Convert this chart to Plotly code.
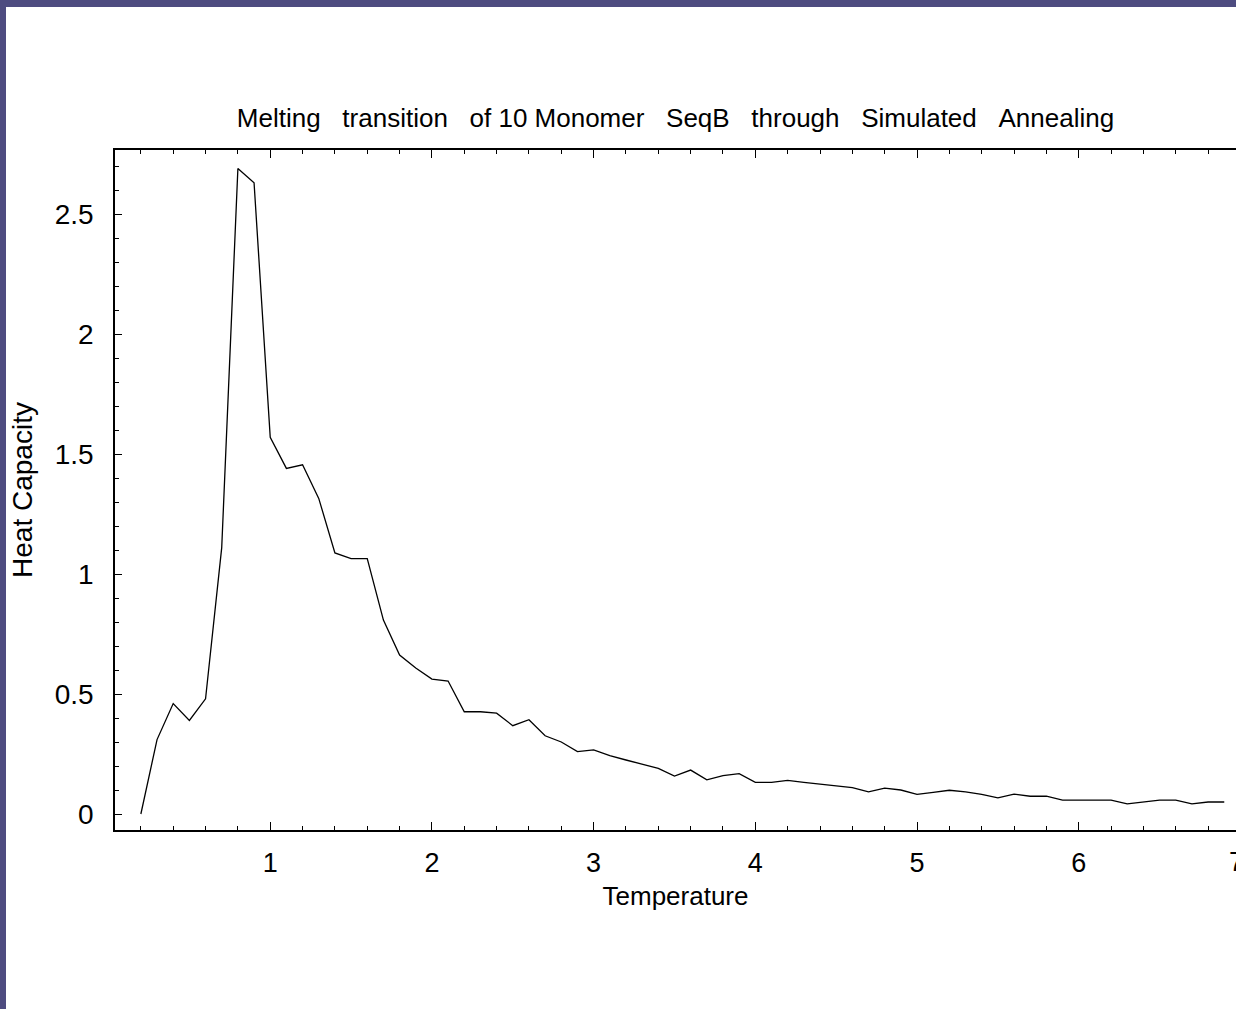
import plotly.graph_objects as go

temperature = [0.2, 0.3, 0.4, 0.5, 0.6, 0.7, 0.8, 0.9, 1.0, 1.1, 1.2, 1.3, 1.4, 1.5, 1.6, 1.7, 1.8, 1.9,
               2.0, 2.1, 2.2, 2.3, 2.4, 2.5, 2.6, 2.7, 2.8, 2.9, 3.0, 3.1, 3.2, 3.3, 3.4, 3.5, 3.6, 3.7,
               3.8, 3.9, 4.0, 4.1, 4.2, 4.3, 4.4, 4.5, 4.6, 4.7, 4.8, 4.9, 5.0, 5.1, 5.2, 5.3, 5.4, 5.5,
               5.6, 5.7, 5.8, 5.9, 6.0, 6.1, 6.2, 6.3, 6.4, 6.5, 6.6, 6.7, 6.8, 6.9]
heat_capacity = [0.0, 0.31, 0.46, 0.39, 0.48, 1.11, 2.69, 2.63, 1.57, 1.44, 1.455, 1.315, 1.088, 1.064,
                 1.064, 0.808, 0.662, 0.608, 0.562, 0.554, 0.426, 0.426, 0.42, 0.368, 0.393, 0.326, 0.30,
                 0.26, 0.267, 0.243, 0.225, 0.207, 0.19, 0.158, 0.183, 0.142, 0.16, 0.168, 0.132, 0.132,
                 0.14, 0.132, 0.124, 0.115, 0.11, 0.092, 0.108, 0.10, 0.082, 0.09, 0.099, 0.092, 0.082,
                 0.067, 0.083, 0.074, 0.074, 0.058, 0.058, 0.058, 0.058, 0.042, 0.05, 0.058, 0.058, 0.042,
                 0.05, 0.05]

x_ticks = [1, 2, 3, 4, 5, 6]
y_ticks = [0, 0.5, 1, 1.5, 2, 2.5]
y_tick_labels = ["0", "0.5", "1", "1.5", "2", "2.5"]

FONT = "Liberation Sans, Arial, sans-serif"
S3 = "\u00a0" * 3
S2 = "\u00a0" * 2
title_text = (f"Melting{S3}transition{S3}of\u00a010\u00a0Monomer{S3}SeqB{S3}through{S3}"
              f"Simulated{S3}Annealing")

fig = go.Figure()
fig.add_trace(go.Scatter(x=temperature, y=heat_capacity, mode="lines",
                         line=dict(color="black", width=1.3), showlegend=False))

fig.update_layout(
    width=1236, height=1009,
    margin=dict(l=115, r=0, t=150, b=179),
    paper_bgcolor="#4e4c80",
    plot_bgcolor="white",
    font=dict(family=FONT, size=26, color="black"),
    title=dict(text=title_text, x=0.5, xref="paper", xanchor="center",
               y=1 - 118 / 1009, yref="container", yanchor="middle",
               font=dict(family=FONT, size=26, color="black")),
    shapes=[dict(type="rect", xref="paper", yref="paper", layer="below",
                 x0=(6 - 115) / 1121, x1=1.2, y0=-0.4, y1=(830 - 7) / 680,
                 fillcolor="white", line=dict(width=0))],
    annotations=[dict(text="7", xref="paper", yref="paper", x=(1236 - 115) / 1121,
                      y=(830 - 862) / 680, xanchor="center", yanchor="middle",
                      showarrow=False, font=dict(family=FONT, size=27, color="black"))],
)

fig.update_xaxes(
    range=[0.04, 0.04 + 1121 / 161.7],
    tickvals=x_ticks,
    ticks="inside", ticklen=8, tickwidth=1, tickcolor="black",
    minor=dict(dtick=0.2, tick0=0, ticks="inside", ticklen=4, tickwidth=1, tickcolor="black"),
    showline=True, linecolor="black", linewidth=1.5, mirror="allticks",
    showgrid=False, zeroline=False,
    title=dict(text="Temperature", standoff=10, font=dict(family=FONT, size=26)),
    tickfont=dict(family=FONT, size=27),
    ticklabelstandoff=8,
)

fig.update_yaxes(
    range=[-16 / 240, 2.7667],
    tickvals=y_ticks, ticktext=y_tick_labels,
    ticks="inside", ticklen=7, tickwidth=1, tickcolor="black",
    minor=dict(dtick=0.1, tick0=0, ticks="inside", ticklen=4, tickwidth=1, tickcolor="black"),
    showline=True, linecolor="black", linewidth=1.5, mirror=False,
    showgrid=False, zeroline=False,
    title=dict(text="Heat Capacity", standoff=14, font=dict(family=FONT, size=28)),
    tickfont=dict(family=FONT, size=28),
    ticklabelstandoff=14,
)

fig.write_html("out.html", config={"displayModeBar": False},
               post_script="document.body.style.margin='0';document.body.style.padding='0';")
